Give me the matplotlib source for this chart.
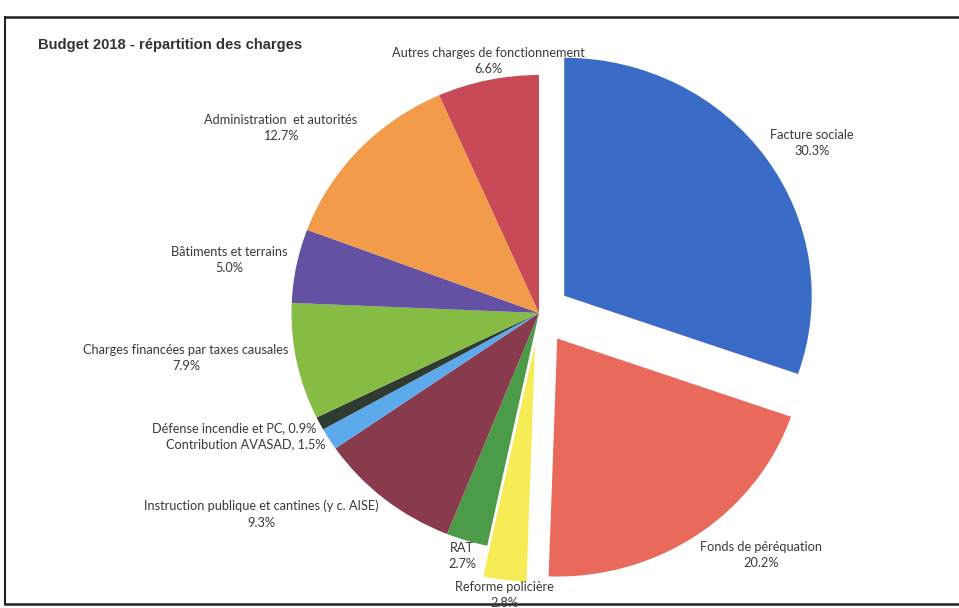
import matplotlib
matplotlib.use("Agg")
import matplotlib.pyplot as plt

W, H = 959, 608

categories = ["Facture sociale", "Fonds de péréquation", "Reforme policière", "RAT",
              "Instruction publique et cantines (y c. AISE)", "Contribution AVASAD",
              "Défense incendie et PC", "Charges financées par taxes causales",
              "Bâtiments et terrains", "Administration  et autorités",
              "Autres charges de fonctionnement"]
values = [30.3, 20.2, 2.8, 2.7, 9.3, 1.5, 0.9, 7.9, 5.0, 12.7, 6.6]
pct_labels = ["30.3%", "20.2%", "2.8%", "2.7%", "9.3%", "1.5%", "0.9%", "7.9%", "5.0%", "12.7%", "6.6%"]
colors = ["#3A6BC6", "#E9695B", "#F6EC55", "#4B9B48", "#8A3A4D", "#5CA9EC",
          "#2F3B31", "#86BC43", "#6551A3", "#F29C4B", "#C84A56"]
explode_frac = [0.125, 0.13, 0.13, 0, 0, 0, 0, 0, 0, 0, 0]

# label layout (pixel centers) and style: two-line or single-line "name, pct"
label_pos = [(812, 143), (761, 555), (504, 595), (462, 556), (261, 514), (246, 444),
             (234, 428), (186, 358), (229, 260), (281, 128), (488, 61)]
single_line = [False, False, False, False, False, True, True, False, False, False, False]

fig = plt.figure(figsize=(W / 100, H / 100), dpi=100)
fig.patch.set_facecolor("white")

R = 238
xs = 1.04  # horizontal stretch of the scanned pie
ax = fig.add_axes([0, 0, 1, 1])
ax.pie(values, colors=colors, explode=[e * R for e in explode_frac], startangle=90,
       counterclock=False, radius=R, center=(539 / xs, H - 313), frame=True,
       wedgeprops=dict(linewidth=0))
ax.set_aspect("auto")
ax.set_xlim(0, W / xs)
ax.set_ylim(0, H)
ax.axis("off")

# scanned frame
for xx, yy, lw in [([5 / W, 1.0], [1 - 17 / H, 1 - 17 / H], 1.8),
                   ([5 / W, 5 / W], [1 - 17 / H, 1 - 604 / H], 1.5),
                   ([5 / W, 1.0], [1 - 604 / H, 1 - 604 / H], 1.8)]:
    fig.add_artist(plt.Line2D(xx, yy, color="#222222", lw=lw, transform=fig.transFigure,
                              zorder=0.5))

txt_color = "#3a3a3a"
lfont = "Lato"
for name, pct, (px, py), single in zip(categories, pct_labels, label_pos, single_line):
    s = f"{name}, {pct}" if single else f"{name}\n{pct}"
    fig.text(px / W, 1 - py / H, s, ha="center", va="center", fontsize=9.2,
             family=lfont, color=txt_color, linespacing=1.45, multialignment="center",
             zorder=5)

fig.text(38 / W, 1 - 45 / H, "Budget 2018 - répartition des charges", ha="left", va="center",
         fontsize=10.6, fontweight="bold", family="Liberation Sans", color="#333333", zorder=5)

fig.savefig("out.png", dpi=100)
